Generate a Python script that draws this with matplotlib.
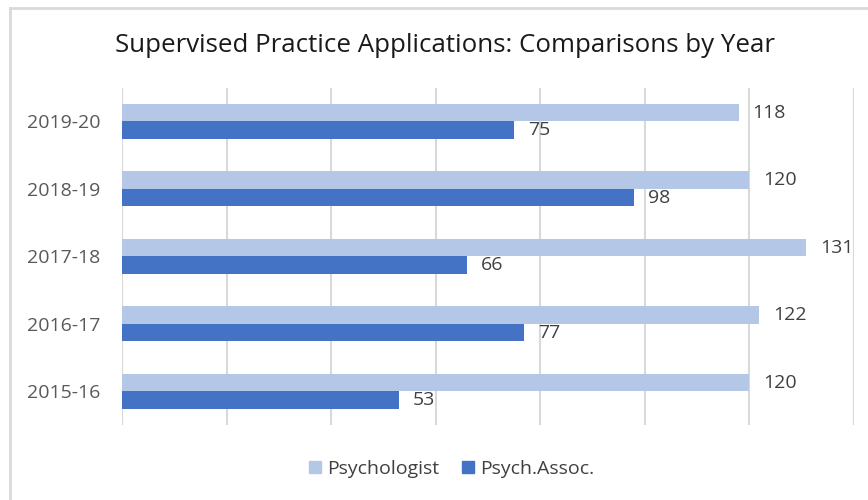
import matplotlib
matplotlib.use("Agg")
import matplotlib.pyplot as plt
from matplotlib.lines import Line2D
from matplotlib.patches import Patch
import numpy as np

years = ["2019-20", "2018-19", "2017-18", "2016-17", "2015-16"]
psychologist = [118, 120, 131, 122, 120]
psych_assoc = [75, 98, 66, 77, 53]
x_ticks = [0, 20, 40, 60, 80, 100, 120, 140]

light = "#b4c7e7"
dark = "#4472c4"
grid = "#d9d9d9"
txt = "#404040"

fig = plt.figure(figsize=(8.68, 5.0), dpi=100)
ax = fig.add_axes([122 / 868, 0.15, 731.5 / 868, 0.6746])

pos = np.arange(len(years))
h = 0.26
ax.barh(pos - h / 2, psychologist, height=h, color=light, zorder=3)
ax.barh(pos + h / 2, psych_assoc, height=h, color=dark, zorder=3)

ax.set_xlim(0, 140)
ax.set_ylim(len(years) - 0.5, -0.5)
ax.set_xticks(x_ticks)
ax.set_xticklabels([])
ax.tick_params(axis="x", length=0)
ax.grid(axis="x", color=grid, linewidth=1.5, zorder=0)
ax.set_yticks(pos)
ax.set_yticklabels(years, fontsize=14, color="#595959", family="Open Sans")
ax.tick_params(axis="y", length=0, pad=15.5)
for s in ax.spines.values():
    s.set_visible(False)

for i in range(len(years)):
    ax.annotate(str(psychologist[i]), (psychologist[i], pos[i] - h / 2),
                xytext=(14, 0), textcoords="offset pixels", va="center", ha="left",
                fontsize=14, color=txt, family="Open Sans")
    ax.annotate(str(psych_assoc[i]), (psych_assoc[i], pos[i] + h / 2),
                xytext=(14, 0), textcoords="offset pixels", va="center", ha="left",
                fontsize=14, color=txt, family="Open Sans")

fig.text(445 / 868, 1 - 45 / 500, "Supervised Practice Applications: Comparisons by Year",
         ha="center", va="center", fontsize=18.6, color="#1a1a1a", family="Open Sans")

handles = [Patch(color=light, label="Psychologist"), Patch(color=dark, label="Psych.Assoc.")]
fig.legend(handles=handles, loc="center", bbox_to_anchor=(451.5 / 868, 1 - 469 / 500),
           ncol=2, frameon=False, handlelength=0.62, handleheight=0.62, handletextpad=0.3,
           columnspacing=1.2, prop={"family": "Open Sans", "size": 14}, labelcolor=txt)

# outer chart border (top and left visible)
fig.add_artist(Line2D([9.5 / 868, 1.0], [1 - 7.5 / 500, 1 - 7.5 / 500], color=grid, linewidth=2,
                      transform=fig.transFigure))
fig.add_artist(Line2D([9.5 / 868, 9.5 / 868], [0, 1 - 7.5 / 500], color=grid, linewidth=2,
                      transform=fig.transFigure))

fig.savefig("out.png", dpi=100, facecolor="white")
